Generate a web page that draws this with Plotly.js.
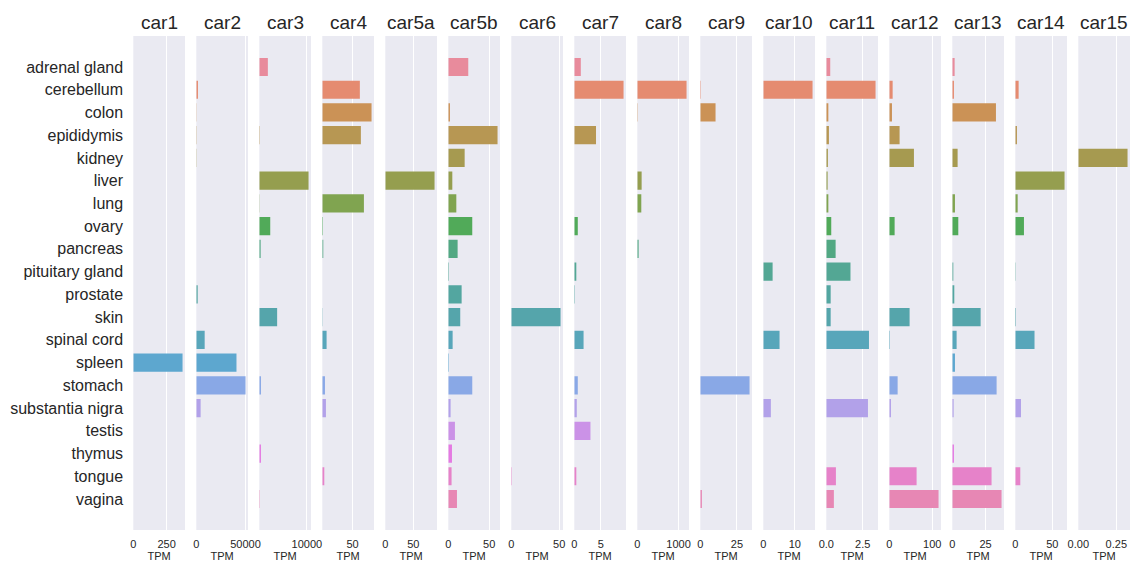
<!DOCTYPE html>
<html>
<head>
<meta charset="utf-8">
<script src="https://cdn.plot.ly/plotly-3.0.1.min.js"></script>
<style>html,body{margin:0;padding:0;background:#fff;}#chart{width:1133px;height:562px;}</style>
</head>
<body>
<div id="chart"></div>
<script>
// ---- data ----
const tissues = ["adrenal gland","cerebellum","colon","epididymis","kidney","liver","lung","ovary","pancreas","pituitary gland","prostate","skin","spinal cord","spleen","stomach","substantia nigra","testis","thymus","tongue","vagina"];
const genes = ["car1","car2","car3","car4","car5a","car5b","car6","car7","car8","car9","car10","car11","car12","car13","car14","car15"];
const car1  = [0,0,0,0,0,0,0,0,0,0,0,0,0,370,0,0,0,0,0,0];
const car2  = [0,1700,250,350,300,0,0,0,0,0,1400,0,8500,40800,50000,4400,0,0,0,0];
const car3  = [1800,0,0,100,0,10350,50,2300,280,0,0,3750,0,0,350,0,0,350,0,100];
const car4  = [0,62,81.3,63.7,0,0,68.7,1,1.6,0,0,0.5,7.1,0,4.4,6,0,0,3.3,0];
const car5a = [0,0,0,0,0,88,0,0,0,0,0,0,0,0,0,0,0,0,0,0];
const car5b = [24.4,0,2,60.2,20,4.9,9.8,29.3,11.4,0.8,16.3,14.6,5.3,0.8,29.3,2.8,8.1,4.5,4,10.6];
const car6  = [0,0,0,0,0,0,0,0,0,0,0,51.4,0,0,0,0,0,0,0.6,0];
const car7  = [1.23,9.3,0,4.1,0,0,0,0.66,0,0.38,0.1,0,1.75,0,0.66,0.47,3.05,0,0.38,0];
const car8  = [0,1193,10,0,0,105,97,0,32,0,0,0,0,0,0,0,0,0,0,0];
const car9  = [0,0.4,10.4,0,0,0,0,0,0,0,0,0,0,0,33.6,0,0,0,0,1.1];
const car10 = [0,15.6,0,0,0,0,0,0,0,2.95,0,0,5.15,0,0,2.4,0,0,0,0];
const car11 = [0.27,3.38,0.14,0.18,0.11,0.09,0.14,0.34,0.64,1.66,0.3,0.3,2.93,0,0,2.86,0,0,0.66,0.52];
const car12 = [0,7.8,6.2,24,57.4,0,0,12.4,0,0,0,47.3,1.5,0,19.4,3.9,0,0,63.6,114.7];
const car13 = [1.75,1.25,32.8,0,4,0,2,4.5,0,0.75,1.5,21.3,3.25,2,33.3,1,0,1.25,29.5,37];
const car14 = [0,4.5,0,2.25,0,66.6,3.2,11.7,0,0.5,0,0.9,26,0,0,7.7,0,0,6.75,0];
const car15 = [0,0,0,0,0.324,0,0,0,0,0,0,0,0,0,0,0,0,0,0,0];
const series = [car1,car2,car3,car4,car5a,car5b,car6,car7,car8,car9,car10,car11,car12,car13,car14,car15];
const tickSteps = [250,50000,10000,50,50,50,50,5,1000,25,10,2.5,100,25,50,0.25];
const tickFormats = ["d","d","d","d","d","d","d","d","d","d","d",".1f","d","d","d",".2f"];
// panels whose "0" label is covered by the neighbour's last label in the reference
const hideZeroLabel = [false,false,true,true,false,false,false,false,false,false,false,false,false,false,false,false];

// ---- seaborn husl palette (20 colours, desaturated 0.75) ----
const M = [[3.2406,-1.5372,-0.4986],[-0.9689,1.8758,0.0415],[0.0557,-0.2040,1.0570]];
const refU = 0.19784, refV = 0.46834, labK = 903.3;
function maxChroma(L,H){
  const hr = H*Math.PI/180, sinH = Math.sin(hr), cosH = Math.cos(hr);
  const sub1 = Math.pow(L+16,3)/1560896.0;
  const sub2 = sub1 > 0.008856 ? sub1 : L/903.3;
  let res = Infinity;
  for (const [m1,m2,m3] of M){
    const top = (0.99915*m1 + 1.05122*m2 + 1.14460*m3)*sub2;
    const rb = 0.86330*m3 - 0.17266*m2;
    const lb = 0.12949*m3 - 0.38848*m1;
    const bottom = (rb*sinH + lb*cosH)*sub2;
    for (const t of [0,1]){
      const C = L*(top - 1.05122*t)/(bottom + 0.17266*sinH*t);
      if (C > 0 && C < res) res = C;
    }
  }
  return res;
}
function fromLinear(c){ return c <= 0.0031308 ? 12.92*c : 1.055*Math.pow(c,1/2.4)-0.055; }
function huslToRgb(H,S,L){
  const C = maxChroma(L,H)/100*S;
  const hr = H*Math.PI/180;
  const U = Math.cos(hr)*C, V = Math.sin(hr)*C;
  const varY = L > 8 ? Math.pow((L+16)/116,3) : L/labK;
  const varU = U/(13*L)+refU, varV = V/(13*L)+refV;
  const Y = varY;
  const X = -(9*Y*varU)/((varU-4)*varV - varU*varV);
  const Z = (9*Y - 15*varV*Y - varV*X)/(3*varV);
  return M.map(r => Math.min(1,Math.max(0,fromLinear(r[0]*X + r[1]*Y + r[2]*Z))));
}
function rgbToHls(r,g,b){
  const mx = Math.max(r,g,b), mn = Math.min(r,g,b), sum = mx+mn, rng = mx-mn, l = sum/2;
  if (mx === mn) return [0,l,0];
  const s = l <= 0.5 ? rng/sum : rng/(2-sum);
  const rc=(mx-r)/rng, gc=(mx-g)/rng, bc=(mx-b)/rng;
  let h = r===mx ? bc-gc : (g===mx ? 2+rc-bc : 4+gc-rc);
  h = ((h/6)%1+1)%1;
  return [h,l,s];
}
function hv(m1,m2,h){ h = ((h%1)+1)%1; if (h<1/6) return m1+(m2-m1)*h*6; if (h<0.5) return m2; if (h<2/3) return m1+(m2-m1)*(2/3-h)*6; return m1; }
function hlsToRgb(h,l,s){
  if (s===0) return [l,l,l];
  const m2 = l<=0.5 ? l*(1+s) : l+s-l*s, m1 = 2*l-m2;
  return [hv(m1,m2,h+1/3), hv(m1,m2,h), hv(m1,m2,h-1/3)];
}
const palette = [];
const lighten = 0.08;
for (let i=0;i<tissues.length;i++){
  const hue = ((i/tissues.length + 0.01)%1)*359;
  const rgb = huslToRgb(hue, 0.9*99, 0.65*99);
  const [h,l,s] = rgbToHls(...rgb);
  const d = hlsToRgb(h,l,s*0.75);
  palette.push('rgb(' + d.map(v=>Math.round((v + (1-v)*lighten)*255)).join(',') + ')');
}

// ---- layout ----
const W = 1133, H = 562;
const mL = 133, mR = 3, mT = 36, mB = 32;
const plotW = W - mL - mR;
const pitch = 63, panelW = 51.7;
const font = '"Liberation Sans", Arial, sans-serif';
const txt = '#262626';

const traces = [];
const layout = {
  width: W, height: H,
  margin: {l: mL, r: mR, t: mT, b: mB, pad: 0},
  paper_bgcolor: '#ffffff',
  plot_bgcolor: '#EAEAF2',
  showlegend: false,
  font: {family: font, color: txt},
  annotations: []
};
const pad = 1.363;
series.forEach((vals, i) => {
  const n = i+1;
  const sfx = n === 1 ? '' : String(n);
  const x0 = (pitch*i + 0.3)/plotW, x1 = (pitch*i + 0.3 + panelW)/plotW;
  const vmax = Math.max(...vals);
  const xmax = vmax*1.05;
  const tv = [];
  for (let k = 0; k*tickSteps[i] <= xmax + 1e-12; k++) tv.push(k*tickSteps[i]);
  const fmt = Plotly.d3 ? null : null;
  const tt = tv.map(v => {
    if (v === 0 && hideZeroLabel[i]) return '';
    if (tickFormats[i] === '.1f') return v.toFixed(1);
    if (tickFormats[i] === '.2f') return v.toFixed(2);
    return String(Math.round(v));
  });
  traces.push({
    type: 'bar', orientation: 'h',
    x: vals, y: tissues,
    xaxis: 'x'+sfx, yaxis: 'y'+sfx,
    marker: {color: palette, line: {width: 0}},
    width: 0.8
  });
  layout['xaxis'+sfx] = {
    domain: [x0, Math.min(1,x1)],
    anchor: 'y'+sfx,
    range: [0, xmax],
    autorange: false,
    tickmode: 'array', tickvals: tv, ticktext: tt,
    showgrid: true, gridcolor: '#ffffff', gridwidth: 1,
    zeroline: false, showline: false,
    ticks: 'outside', ticklen: 4, tickcolor: 'rgba(0,0,0,0)',
    tickfont: {size: 11, color: txt, family: font},
    title: {text: 'TPM', font: {size: 11, color: txt, family: font}, standoff: 3}
  };
  layout['yaxis'+sfx] = {
    domain: [0,1],
    anchor: 'x'+sfx,
    type: 'category',
    categoryorder: 'array', categoryarray: tissues,
    range: [tissues.length - 1 + pad, -pad],
    autorange: false,
    showgrid: false, zeroline: false, showline: false,
    showticklabels: n === 1,
    ticks: n === 1 ? 'outside' : '', ticklen: 6, tickcolor: 'rgba(0,0,0,0)',
    tickfont: {size: 16, color: txt, family: font}
  };
  layout.annotations.push({
    text: genes[i], xref: 'paper', yref: 'paper',
    x: (x0 + x1)/2, y: 1, xanchor: 'center', yanchor: 'bottom',
    yshift: 1, showarrow: false,
    font: {size: 19, color: txt, family: font}
  });
});

Plotly.newPlot('chart', traces, layout, {displayModeBar: false, staticPlot: true});
</script>
</body>
</html>
